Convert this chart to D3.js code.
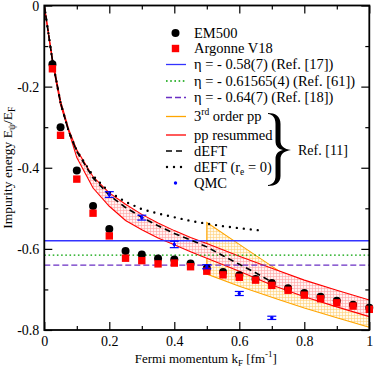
<!DOCTYPE html>
<html>
<head>
<meta charset="utf-8">
<script src="https://cdn.jsdelivr.net/npm/d3@7"></script>
<style>
  body { margin: 0; background: #fff; }
  svg { display: block; font-family: "Liberation Serif", "Times New Roman", serif; }
</style>
</head>
<body>
<svg id="chart"></svg>
<script>
let width = 374, height = 369;

// EM500 / Argonne V18 points
let kF = [0.025, 0.05, 0.1, 0.15, 0.2, 0.25, 0.3, 0.35, 0.4, 0.45, 0.5,
          0.55, 0.6, 0.65, 0.7, 0.75, 0.8, 0.85, 0.9, 0.95, 1.0];
let em500 = [-0.145, -0.300, -0.407, -0.494, -0.551, -0.605, -0.614, -0.624, -0.626, -0.636, -0.648,
             -0.657, -0.665, -0.674, -0.684, -0.697, -0.709, -0.718, -0.728, -0.738, -0.745];
let av18 = [-0.156, -0.320, -0.428, -0.512, -0.568, -0.623, -0.629, -0.637, -0.635, -0.644, -0.655,
            -0.664, -0.670, -0.677, -0.690, -0.702, -0.714, -0.723, -0.733, -0.741, -0.749];

// QMC with error bars
let qmcK = [0.2, 0.3, 0.4, 0.5, 0.6, 0.7];
let qmcE = [-0.466, -0.523, -0.589, -0.644, -0.710, -0.770];
let qmcErr = [0.007, 0.006, 0.008, 0.005, 0.005, 0.004];

// unitary-limit eta values
let etaValues = [-0.58, -0.61565, -0.64];

// pp resummed band
let bandK = [0, 0.025, 0.05, 0.075, 0.1, 0.15, 0.2, 0.25, 0.3, 0.35, 0.4, 0.45, 0.5, 0.6, 0.7, 0.8, 0.9, 1.0];
let bandUpper = [0, -0.13, -0.235, -0.305, -0.356, -0.422, -0.462, -0.49, -0.515, -0.536, -0.555, -0.572, -0.587, -0.618, -0.648, -0.677, -0.702, -0.726];
let bandLower = [0, -0.14, -0.245, -0.31, -0.375, -0.45, -0.495, -0.53, -0.553, -0.573, -0.59, -0.607, -0.623, -0.655, -0.689, -0.718, -0.743, -0.767];

// 3rd order pp band
let thirdK = [0.5, 0.6, 0.725, 0.8, 0.9, 1.0];
let thirdUpper = [-0.535, -0.589, -0.656, -0.69, -0.72, -0.75];
let thirdLower = [-0.662, -0.692, -0.726, -0.746, -0.77, -0.793];

// dEFT curves
let deftK = [0, 0.025, 0.05, 0.075, 0.1, 0.15, 0.2, 0.25, 0.3, 0.35, 0.4, 0.45, 0.5, 0.55, 0.6, 0.65, 0.69];
let deft = [0, -0.135, -0.24, -0.31, -0.36, -0.425, -0.468, -0.498, -0.522, -0.543, -0.562, -0.578, -0.595, -0.617, -0.638, -0.659, -0.677];
let deft0K = [0, 0.025, 0.05, 0.075, 0.1, 0.15, 0.2, 0.25, 0.3, 0.35, 0.4, 0.45, 0.5, 0.55, 0.6, 0.67];
let deft0 = [0, -0.135, -0.24, -0.31, -0.358, -0.42, -0.46, -0.484, -0.502, -0.513, -0.522, -0.531, -0.538, -0.544, -0.549, -0.555];

let xTicks = [0, 0.2, 0.4, 0.6, 0.8, 1];
let yTicks = [0, -0.2, -0.4, -0.6, -0.8];

let x = d3.scaleLinear().domain([0, 1]).range([44.3, 369.3]);
let y = d3.scaleLinear().domain([-0.8, 0]).range([330, 5.5]);

let svg = d3.select("#chart").attr("width", width).attr("height", height);
let defs = svg.append("defs");

defs.append("clipPath").attr("id", "clip")
  .append("rect").attr("x", x(0)).attr("y", y(0)).attr("width", x(1) - x(0)).attr("height", y(-0.8) - y(0));

const makePattern = (id, bg, fg) => {
  let p = defs.append("pattern").attr("id", id)
    .attr("width", 3).attr("height", 3).attr("patternUnits", "userSpaceOnUse");
  p.append("rect").attr("width", 3).attr("height", 3).attr("fill", bg);
  p.append("path").attr("d", "M0,0.5H3M0.5,0V3").attr("stroke", fg).attr("stroke-width", 0.6);
};
makePattern("redHatch", "#fff3f3", "#ffa2a2");
makePattern("orangeHatch", "#fffaee", "#ffd078");

let plot = svg.append("g").attr("clip-path", "url(#clip)");

let zip = (ks, vs) => ks.map((k, i) => [k, vs[i]]);
let line = d3.line().x(d => x(d[0])).y(d => y(d[1]));
let area = d3.area().x(d => x(d[0])).y0(d => y(d[1])).y1(d => y(d[2]));

// 3rd order pp band
let thirdData = thirdK.map((k, i) => [k, thirdLower[i], thirdUpper[i]]);
plot.append("path").attr("d", area(thirdData))
  .attr("fill", "url(#orangeHatch)").attr("stroke", "#ffa500").attr("stroke-width", 1.1);

// pp resummed band
let bandData = bandK.map((k, i) => [k, bandLower[i], bandUpper[i]]);
plot.append("path").attr("d", area(bandData)).attr("fill", "url(#redHatch)");
plot.append("path").attr("d", line(zip(bandK, bandUpper)))
  .attr("fill", "none").attr("stroke", "#ff0000").attr("stroke-width", 1.1);
plot.append("path").attr("d", line(zip(bandK, bandLower)))
  .attr("fill", "none").attr("stroke", "#ff0000").attr("stroke-width", 1.1);

// eta lines
let etaStyles = [
  {color: "#3333ff", dash: null},
  {color: "#00a000", dash: "1.6,2.6"},
  {color: "#6a2fc4", dash: "6,3"}
];
etaValues.forEach((v, i) => {
  plot.append("line")
    .attr("x1", x(0)).attr("x2", x(1)).attr("y1", y(v)).attr("y2", y(v))
    .attr("stroke", etaStyles[i].color).attr("stroke-width", 1.3)
    .attr("stroke-dasharray", etaStyles[i].dash);
});

// dEFT curves
plot.append("path").attr("d", line(zip(deftK, deft)))
  .attr("fill", "none").attr("stroke", "#000").attr("stroke-width", 1.6)
  .attr("stroke-dasharray", "6,4");
plot.append("path").attr("d", line(zip(deft0K, deft0)))
  .attr("fill", "none").attr("stroke", "#000").attr("stroke-width", 2.4)
  .attr("stroke-linecap", "round").attr("stroke-dasharray", "0,7");

// EM500 and AV18 points
svg.append("g").selectAll("circle").data(zip(kF, em500)).enter().append("circle")
  .attr("cx", d => x(d[0])).attr("cy", d => y(d[1])).attr("r", 4).attr("fill", "#000");
svg.append("g").selectAll("rect").data(zip(kF, av18)).enter().append("rect")
  .attr("x", d => x(d[0]) - 3.7).attr("y", d => y(d[1]) - 3.7)
  .attr("width", 7.4).attr("height", 7.4).attr("fill", "#ff0000");

// QMC
let qmc = svg.append("g").attr("stroke", "#0000ff").attr("stroke-width", 1.2);
qmcK.forEach((k, i) => {
  let cx = x(k), lo = y(qmcE[i] - qmcErr[i]), hi = y(qmcE[i] + qmcErr[i]);
  qmc.append("line").attr("x1", cx).attr("x2", cx).attr("y1", lo).attr("y2", hi);
  qmc.append("line").attr("x1", cx - 4.5).attr("x2", cx + 4.5).attr("y1", lo).attr("y2", lo);
  qmc.append("line").attr("x1", cx - 4.5).attr("x2", cx + 4.5).attr("y1", hi).attr("y2", hi);
  qmc.append("circle").attr("cx", cx).attr("cy", y(qmcE[i])).attr("r", 1.7)
    .attr("fill", "#0000ff").attr("stroke", "none");
});

// axes
let fmt = d => d === 0 ? "0" : String(+d.toFixed(1));
let minorX = d3.range(0.1, 1, 0.2);
let minorY = [-0.1, -0.3, -0.5, -0.7];

const drawAxis = (axis, transform, labels) => {
  let g = svg.append("g").attr("transform", transform).call(axis);
  g.select(".domain").remove();
  g.selectAll("line").attr("stroke", "#000").attr("stroke-width", 1.2);
  g.selectAll("text").attr("font-family", "Liberation Serif, serif").attr("font-size", 14).attr("fill", "#000");
  if (!labels) g.selectAll("text").remove();
  return g;
};
drawAxis(d3.axisBottom(x).tickValues(xTicks).tickSize(-8).tickPadding(6).tickFormat(fmt), `translate(0,${y(-0.8)})`, true);
drawAxis(d3.axisBottom(x).tickValues(minorX).tickSize(-4), `translate(0,${y(-0.8)})`, false);
drawAxis(d3.axisTop(x).tickValues(xTicks).tickSize(-8), `translate(0,${y(0)})`, false);
drawAxis(d3.axisTop(x).tickValues(minorX).tickSize(-4), `translate(0,${y(0)})`, false);
let yAxis = drawAxis(d3.axisLeft(y).tickValues(yTicks).tickSize(-8).tickPadding(5).tickFormat(fmt), `translate(${x(0)},0)`, true);
yAxis.selectAll("text").filter(d => d === 0).attr("dy", "0.36em");
drawAxis(d3.axisLeft(y).tickValues(minorY).tickSize(-4), `translate(${x(0)},0)`, false);
drawAxis(d3.axisRight(y).tickValues(yTicks).tickSize(-8), `translate(${x(1)},0)`, false);
drawAxis(d3.axisRight(y).tickValues(minorY).tickSize(-4), `translate(${x(1)},0)`, false);

svg.append("rect").attr("x", x(0)).attr("y", y(0))
  .attr("width", x(1) - x(0)).attr("height", y(-0.8) - y(0))
  .attr("fill", "none").attr("stroke", "#000").attr("stroke-width", 1.8);

// axis titles
let xt = svg.append("text").attr("x", (x(0) + x(1)) / 2 - 1).attr("y", 363)
  .attr("text-anchor", "middle").attr("font-size", 13);
xt.append("tspan").text("Fermi momentum k");
xt.append("tspan").attr("font-size", 9).attr("dy", 3).text("F");
xt.append("tspan").attr("dy", -3).text(" [fm");
xt.append("tspan").attr("font-size", 9).attr("dy", -6).text("-1");
xt.append("tspan").attr("dy", 6).text("]");

let yt = svg.append("text")
  .attr("transform", `translate(12,${(y(0) + y(-0.8)) / 2}) rotate(-90)`)
  .attr("text-anchor", "middle").attr("font-size", 13.5);
yt.append("tspan").text("Impurity energy E");
yt.append("tspan").attr("font-size", 9.5).attr("dy", 3).text("ψ");
yt.append("tspan").attr("dy", -3).text("/E");
yt.append("tspan").attr("font-size", 9.5).attr("dy", 3).text("F");

// legend
let legX = 166, legX2 = 186, textX = 194;
let leg = svg.append("g").attr("font-size", 14.5);
const legText = (yy, parts) => {
  let t = leg.append("text").attr("x", textX).attr("y", yy + 4.8);
  parts.forEach(p => {
    let s = t.append("tspan").text(p[0]);
    if (p[1]) s.attr("dy", p[1]);
    if (p[2]) s.attr("font-size", 9.5);
  });
};
let legRows = [33, 48.5, 64.5, 81, 97.5, 116.5, 135, 151, 167, 183];

leg.append("circle").attr("cx", 175.5).attr("cy", legRows[0]).attr("r", 4).attr("fill", "#000");
legText(legRows[0], [["EM500"]]);
leg.append("rect").attr("x", 171.8).attr("y", legRows[1] - 3.7).attr("width", 7.4).attr("height", 7.4).attr("fill", "#ff0000");
legText(legRows[1], [["Argonne V18"]]);

let legLine = (yy, color, dash, w, cap) => leg.append("line")
  .attr("x1", legX).attr("x2", legX2).attr("y1", yy).attr("y2", yy)
  .attr("stroke", color).attr("stroke-width", w).attr("stroke-dasharray", dash)
  .attr("stroke-linecap", cap || "butt");

legLine(legRows[2], etaStyles[0].color, null, 1.3);
legText(legRows[2], [["η = - 0.58(7) (Ref. [17])"]]);
legLine(legRows[3], etaStyles[1].color, etaStyles[1].dash, 1.3);
legText(legRows[3], [["η = - 0.61565(4) (Ref. [61])"]]);
legLine(legRows[4], etaStyles[2].color, etaStyles[2].dash, 1.3);
legText(legRows[4], [["η = - 0.64(7) (Ref. [18])"]]);
legLine(legRows[5], "#ffa500", null, 1.3);
legText(legRows[5], [["3"], ["rd", -6, true], [" order pp", 6]]);
legLine(legRows[6], "#ff0000", null, 1.3);
legText(legRows[6], [["pp resummed"]]);
legLine(legRows[7], "#000", "6,4", 1.6);
legText(legRows[7], [["dEFT"]]);
legLine(legRows[8], "#000", "0,7", 2.4, "round").attr("x1", legX + 1);
legText(legRows[8], [["dEFT (r"], ["e", 3, true], [" = 0)", -3]]);
leg.append("circle").attr("cx", 175.5).attr("cy", legRows[9]).attr("r", 1.7).attr("fill", "#0000ff");
legText(legRows[9], [["QMC"]]);

// brace + reference
svg.append("path")
  .attr("d", "M268,113 C275,113 280.5,116 280.5,124 L280.5,141 C280.5,146 284,149 291,150 " +
    "C284,151 280.5,154 280.5,159 L280.5,176 C280.5,183 275,186 268,186 L268,185 " +
    "C273,184.5 275.5,181 275.5,176 L275.5,159 C275.5,154 278,151 283,150 " +
    "C278,149 275.5,146 275.5,141 L275.5,124 C275.5,118 273,114.5 268,114 Z")
  .attr("fill", "#000");
svg.append("text").attr("x", 298).attr("y", 155).attr("font-size", 14).text("Ref. [11]");
</script>
</body>
</html>
